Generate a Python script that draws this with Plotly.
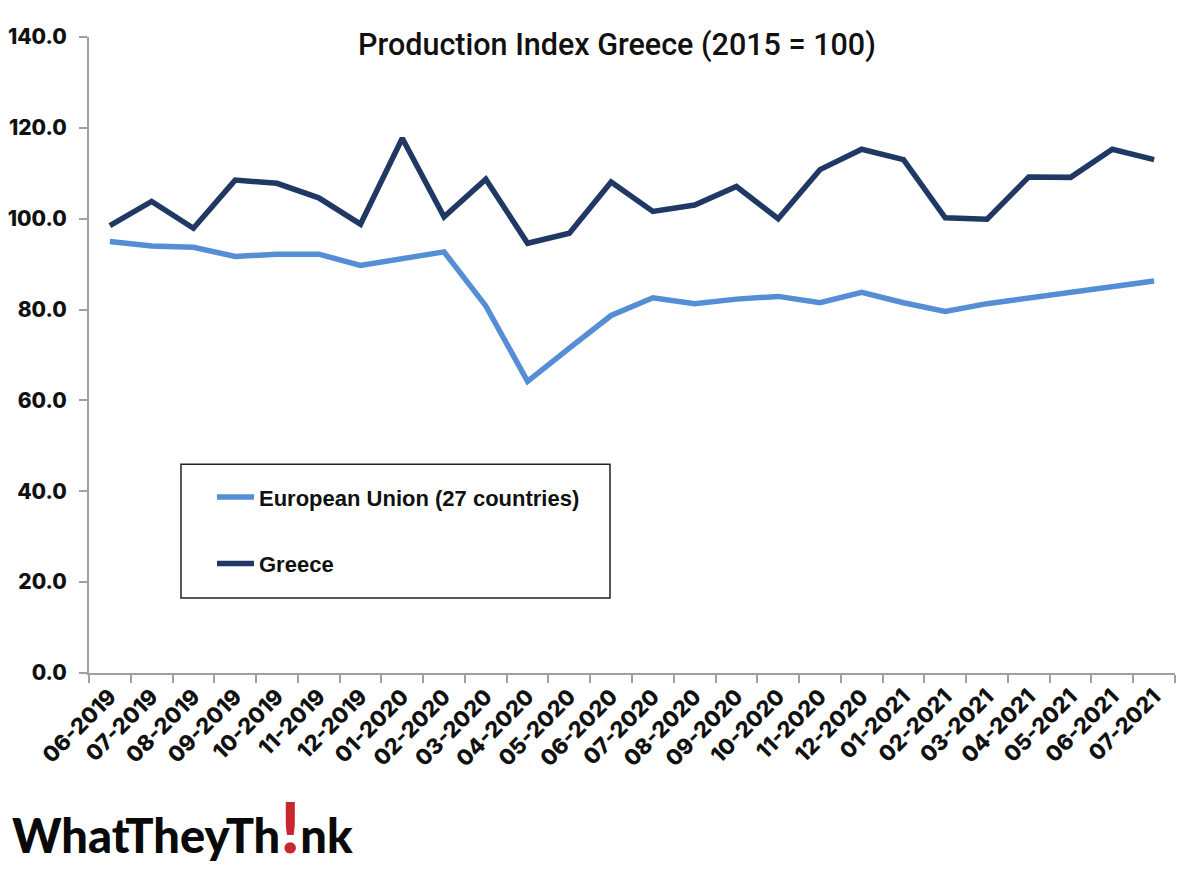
# Production index chart, Greece vs EU
import plotly.graph_objects as go

months = ["06-2019", "07-2019", "08-2019", "09-2019", "10-2019", "11-2019", "12-2019",
          "01-2020", "02-2020", "03-2020", "04-2020", "05-2020", "06-2020", "07-2020",
          "08-2020", "09-2020", "10-2020", "11-2020", "12-2020", "01-2021", "02-2021",
          "03-2021", "04-2021", "05-2021", "06-2021", "07-2021"]
eu = [95.0, 94.0, 93.7, 91.7, 92.2, 92.2, 89.7, 91.3, 92.7, 80.8, 64.2, 71.5, 78.7,
      82.6, 81.3, 82.3, 82.9, 81.5, 83.8, 81.5, 79.6, 81.3, 82.6, 83.9, 85.1, 86.3]
greece = [98.5, 103.8, 97.9, 108.5, 107.8, 104.6, 98.8, 117.7, 100.4, 108.7, 94.6, 96.8, 108.1,
          101.6, 103.0, 107.1, 100.0, 110.8, 115.3, 113.0, 100.2, 99.9, 109.2, 109.1, 115.3, 113.0]
y_ticks = [0, 20, 40, 60, 80, 100, 120, 140]

# page has an 8px body margin, figure is drawn inside it
OFF = 8
W, H = 1200 - OFF, 872 - OFF
L, R, T, B = 89, 1175, 36.5, 673  # plot area in page pixels


def px(x):
    return (x - L) / (R - L)


def py(y):
    return (B - y) / (B - T)


fig = go.Figure()
fig.add_trace(go.Scatter(x=months, y=eu, mode="lines", name="European Union (27 countries)",
                         legendgroup="eu", line=dict(color="#558ed5", width=5.5)))
fig.add_trace(go.Scatter(x=months, y=greece, mode="lines", name="Greece",
                         legendgroup="gr", line=dict(color="#1f3864", width=5.5)))

fig.update_layout(
    width=W, height=H, autosize=False,
    margin=dict(l=L - OFF, r=W - (R - OFF), t=T - OFF, b=H - (B - OFF), autoexpand=False),
    paper_bgcolor="white", plot_bgcolor="white",
    title=dict(text="Production Index Greece (2015 = 100)", x=(617 - OFF) / W, xanchor="center",
               y=1 - (44 - OFF) / H, yanchor="middle",
               font=dict(family="Roboto", size=30.5, color="#111111", weight=500)),
    legend=dict(x=px(212), y=py(476), xanchor="left", yanchor="top",
                bgcolor="rgba(0,0,0,0)", borderwidth=0, itemwidth=37, tracegroupgap=35,
                font=dict(family="Liberation Sans", size=22, color="#111111", weight="bold")),
)
fig.update_xaxes(type="category", range=[-0.5, 25.5], showgrid=False, zeroline=False,
                 showline=True, linecolor="#a0a0a0", linewidth=2,
                 ticks="outside", ticklen=8, tickcolor="#a0a0a0", tickwidth=2, tickson="boundaries",
                 tickangle=-45, tickfont=dict(family="Inter", size=22, color="#111111", weight=800))
fig.update_yaxes(range=[0, 140], tickvals=y_ticks, tickformat=".1f", showgrid=False, zeroline=False,
                 showline=True, linecolor="#a0a0a0", linewidth=2,
                 ticks="outside", ticklen=8, tickcolor="#a0a0a0", tickwidth=2,
                 ticklabelstandoff=8, tickfont=dict(family="Inter", size=21, color="#111111", weight=800))

# legend box
fig.add_shape(type="rect", xref="paper", yref="paper",
              x0=px(181), x1=px(610), y0=py(598), y1=py(464),
              line=dict(color="#222222", width=1.5), fillcolor="rgba(0,0,0,0)")

# logo
fig.add_annotation(text="WhatTheyTh<span style='color:#c8282d;font-size:70px'>!</span>nk",
                   xref="paper", yref="paper", x=px(10), y=py(826),
                   xanchor="left", yanchor="middle", showarrow=False,
                   font=dict(family="Lato", size=47, color="#0a0a0a", weight=900))

fig.write_html("out.html")
